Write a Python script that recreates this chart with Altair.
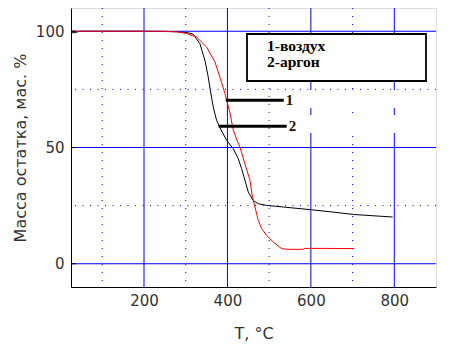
import altair as alt
import pandas as pd

# --- data ---
air_T = [25, 100, 200, 250, 280, 302, 326, 350, 370, 382, 394, 406, 414, 423, 430,
         442, 454, 460, 466, 474, 482, 494, 510, 530, 545, 582, 584, 640, 704]
air_M = [100, 100, 100, 100, 99.7, 99, 97.5, 93.2, 86.8, 80.3, 73.2, 65, 57.5, 53.1, 50.2,
         43, 35.9, 28.7, 24.4, 18.6, 15.1, 12.2, 9.3, 6.5, 6.2, 6.2, 6.6, 6.6, 6.5]

argon_T = [25, 35, 45, 100, 200, 280, 300, 317, 334, 346, 354, 359, 366, 374, 382, 398,
           414, 426, 434, 442, 450, 462, 474, 494, 534, 574, 602, 654, 702, 796]
argon_M = [99.3, 99.4, 100, 100, 100, 99.8, 99.5, 98.9, 94.7, 87.5, 80.3, 74.6, 67.4, 61.7,
           58.5, 53.1, 49.5, 45.2, 40.9, 35.9, 30.8, 27.2, 25.8, 25.1, 24.4, 23.7, 23.2,
           22.2, 21.2, 20.1]

y_major = [0, 50, 100]
y_minor = [25, 75]
x_major = [200, 400, 600, 800]
x_minor = [100, 300, 500, 700]

lead_label = ["1", "2"]
lead_x1 = [396, 379]
lead_x2 = [535, 542]
lead_y = [70.3, 59.1]

legend_lines = ["1-воздух", "2-аргон"]

BLUE = "#0000FF"
TXT = "#333333"

xs = alt.Scale(domain=[25, 900], nice=False, zero=False)
ys = alt.Scale(domain=[-10, 110], nice=False, zero=False)

air = pd.DataFrame({"T": air_T, "M": air_M})
argon = pd.DataFrame({"T": argon_T, "M": argon_M})
lead = pd.DataFrame({"lab": lead_label, "x1": lead_x1, "x2": lead_x2, "y": lead_y})

base_x = alt.X("T:Q", scale=xs, title="T, °C",
               axis=alt.Axis(values=x_major, grid=False, ticks=False, domainColor="black",
                             labelFont="DejaVu Sans", labelFontSize=15, labelColor=TXT,
                             labelPadding=6, titleFont="DejaVu Sans", titleFontSize=16,
                             titleFontWeight="normal", titleColor=TXT,
                             titleBaseline="alphabetic", titleY=51))
base_y = alt.Y("M:Q", scale=ys, title="Масса остатка, мас. %",
               axis=alt.Axis(values=y_major, grid=False, ticks=False, domainColor="black",
                             labelFont="DejaVu Sans", labelFontSize=15, labelColor=TXT,
                             labelPadding=7, titleFont="DejaVu Sans", titleFontSize=16,
                             titleFontWeight="normal", titleColor=TXT,
                             titleX=-51, titleY=139.5, titleBaseline="middle",
                             titleAlign="center"))

hmaj = alt.Chart(pd.DataFrame({"hv": y_major})).mark_rule(color=BLUE, strokeWidth=1).encode(
    y=alt.Y("hv:Q", scale=ys))
hmin = alt.Chart(pd.DataFrame({"hm": y_minor})).mark_rule(color=BLUE, strokeWidth=1,
                                                          strokeDash=[1, 6.5]).encode(
    y=alt.Y("hm:Q", scale=ys))
vmaj = alt.Chart(pd.DataFrame({"vv": x_major})).mark_rule(color=BLUE, strokeWidth=1).encode(
    x=alt.X("vv:Q", scale=xs))
vmin = alt.Chart(pd.DataFrame({"vm": x_minor})).mark_rule(color=BLUE, strokeWidth=1,
                                                          strokeDash=[1, 7]).encode(
    x=alt.X("vm:Q", scale=xs))

ytick = alt.Chart(pd.DataFrame({"tk": y_major})).mark_rule(color="black", strokeWidth=1).encode(
    y=alt.Y("tk:Q", scale=ys), x=alt.value(0), x2=alt.value(5))

boxes = alt.Chart(pd.DataFrame({"bx": [214, 217], "by": [82, 107], "byy": [100, 125]})).mark_rect(
    fill="white").encode(
    x=alt.X("bx:Q", scale=None), x2=alt.value(364),
    y=alt.Y("by:Q", scale=None), y2="byy:Q")

legend_box = alt.Chart(pd.DataFrame({"a": [0]})).mark_rect(
    fill="white", stroke="black", strokeWidth=1.8).encode(
    x=alt.value(176), x2=alt.value(355), y=alt.value(26), y2=alt.value(73))

legend_txt = alt.Chart(pd.DataFrame({"t": legend_lines, "py": [42.7, 59.3]})).mark_text(
    font="Liberation Serif", fontWeight="bold", fontSize=15.5, align="left",
    baseline="alphabetic", color="black").encode(
    x=alt.value(196), y=alt.Y("py:Q", scale=None), text="t:N")

argon_line = alt.Chart(argon).mark_line(color="black", strokeWidth=1).encode(
    x=base_x, y=base_y)
air_line = alt.Chart(air).mark_line(color="#FF0000", strokeWidth=1).encode(
    x=base_x, y=base_y)

leaders = alt.Chart(lead).mark_rule(color="black", strokeWidth=3).encode(
    x=alt.X("x1:Q", scale=xs), x2="x2:Q", y=alt.Y("y:Q", scale=ys))
lead_txt = alt.Chart(lead).mark_text(font="Liberation Serif", fontWeight="bold", fontSize=15,
                                     align="left", baseline="middle", dx=2,
                                     color="#1a1000").encode(
    x=alt.X("x2:Q", scale=xs), y=alt.Y("y:Q", scale=ys), text="lab:N")

chart = alt.layer(
    argon_line, hmin, vmin, hmaj, vmaj, boxes, legend_box, air_line,
    leaders, lead_txt, legend_txt, ytick
).properties(
    width=365, height=279,
    padding={"left": 63, "top": 0, "right": 20, "bottom": 62},
    autosize=alt.AutoSizeParams(type="none"),
).configure_view(stroke=None).configure(background="white")

chart.save("out.html", embed_options={"renderer": "svg", "actions": False})
